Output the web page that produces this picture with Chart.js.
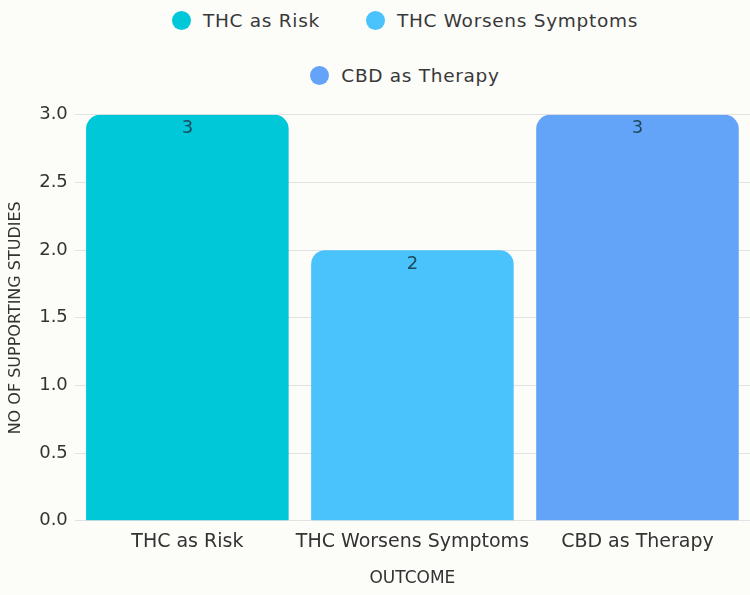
<!DOCTYPE html>
<html>
<head>
<meta charset="utf-8">
<script src="https://cdn.jsdelivr.net/npm/chart.js@4/dist/chart.umd.min.js"></script>
<style>
  body { margin: 0; background: #fcfcf9; font-family: 'DejaVu Sans', sans-serif; }
  #legend {
    position: absolute; top: 0; left: 65px; width: 680px; height: 97px;
    display: flex; justify-content: center; align-items: flex-start;
  }
  #legend .inner {
    width: 560px; margin-top: 8px;
    display: flex; flex-wrap: wrap; justify-content: center; column-gap: 46px; row-gap: 31px;
  }
  #legend .item {
    display: flex; align-items: center; height: 24px;
    font-size: 18.5px; letter-spacing: 0.7px; color: #383838;
  }
  #legend .dot { width: 19px; height: 19px; border-radius: 50%; margin-right: 12px; }
  #wrap { position: absolute; top: 97px; left: 0; width: 750px; height: 498px; }
</style>
</head>
<body>
<div id="legend"><div class="inner"></div></div>
<div id="wrap"><canvas id="outcomeChart"></canvas></div>
<script>
var categories = ['THC as Risk', 'THC Worsens Symptoms', 'CBD as Therapy'];
var studies = [3, 2, 3];
var barColors = ['#00c8d8', '#4ac3fd', '#63a4f8'];
var yTicks = [0, 0.5, 1, 1.5, 2, 2.5, 3];

var FONT = 'DejaVu Sans';

// html legend, one entry per category
var inner = document.querySelector('#legend .inner');
categories.forEach(function(c, i) {
    var item = document.createElement('div');
    item.className = 'item';
    var dot = document.createElement('span');
    dot.className = 'dot';
    dot.style.background = barColors[i];
    item.appendChild(dot);
    item.appendChild(document.createTextNode(c));
    inner.appendChild(item);
});

// value labels just under the top of each bar
var barValues = {
    id: 'barValues',
    afterDatasetsDraw: function(chart) {
        var ctx = chart.ctx;
        var meta = chart.getDatasetMeta(0);
        ctx.save();
        ctx.font = '18px "' + FONT + '"';
        ctx.fillStyle = '#1d4a5c';
        ctx.textAlign = 'center';
        ctx.textBaseline = 'middle';
        meta.data.forEach(function(bar, i) {
            ctx.fillText(String(studies[i]), bar.x, bar.y + 14);
        });
        ctx.restore();
    }
};

var ctx = document.getElementById('outcomeChart').getContext('2d');
var outcomeChart = new Chart(ctx, {
    type: 'bar',
    data: {
        labels: categories,
        datasets: [{
            label: 'No of supporting studies',
            data: studies,
            backgroundColor: barColors,
            borderRadius: 14,
            borderSkipped: 'bottom',
            barPercentage: 0.9,
            categoryPercentage: 1
        }]
    },
    options: {
        responsive: true,
        maintainAspectRatio: false,
        animation: false,
        layout: {
            padding: { left: 4, right: 0, top: 0, bottom: 6 }
        },
        plugins: {
            legend: { display: false },
            tooltip: { enabled: false }
        },
        scales: {
            x: {
                grid: { display: false, drawTicks: false },
                border: { display: false },
                ticks: {
                    color: '#333',
                    font: { family: FONT, size: 19 },
                    padding: 10,
                    autoSkip: false,
                    maxRotation: 0
                },
                title: {
                    display: true,
                    text: 'OUTCOME',
                    color: '#333',
                    font: { family: FONT, size: 17 },
                    padding: { top: 5, bottom: 0 }
                }
            },
            y: {
                min: 0,
                max: 3,
                afterBuildTicks: function(axis) {
                    axis.ticks = yTicks.map(function(v) { return { value: v }; });
                },
                grid: { color: '#e2e2e2', drawTicks: false },
                border: { display: false },
                ticks: {
                    color: '#333',
                    font: { family: FONT, size: 18 },
                    padding: 7,
                    callback: function(v) { return Number(v).toFixed(1); }
                },
                title: {
                    display: true,
                    text: 'NO OF SUPPORTING STUDIES',
                    color: '#333',
                    font: { family: FONT, size: 16 },
                    padding: { top: 2, bottom: 7 }
                }
            }
        }
    },
    plugins: [barValues]
});
</script>
</body>
</html>
